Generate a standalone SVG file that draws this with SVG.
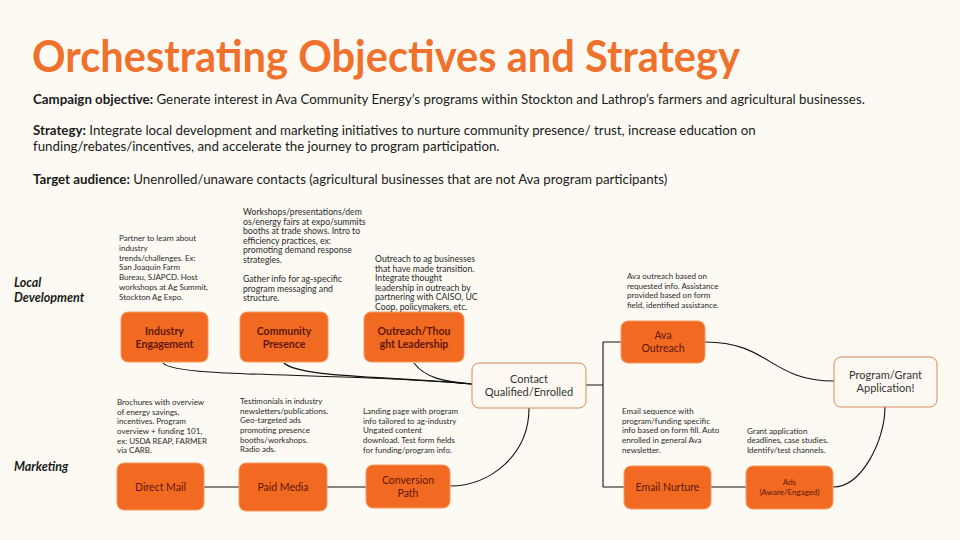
<svg xmlns="http://www.w3.org/2000/svg" width="960" height="540" viewBox="0 0 960 540">
<defs>
<style>
.bg{fill:#fcfaf3}
.title{font-family:Lato,"Open Sans",sans-serif;font-weight:700;font-size:43px;fill:#f0712c}
.body{font-family:Lato,"Open Sans",sans-serif;font-size:13.3px;fill:#1a1a1a}
.body .b{font-weight:700}
.lane{font-family:Lato,"Open Sans",sans-serif;font-size:12.5px;font-weight:700;font-style:italic;fill:#1a1a1a}
.note{font-family:Lato,"Open Sans",sans-serif;font-size:8px;fill:#2a2a2a}
.note.l{font-size:8.7px}
.box{fill:#f26a22;stroke:#f59a5e;stroke-width:1}
.wbox{fill:#fdf9f2;stroke:#d9895a;stroke-width:1}
.nt{font-family:Lato,"Open Sans",sans-serif;font-size:10.5px;font-weight:700;fill:#5e1608;text-anchor:middle}
.nr{font-family:Lato,"Open Sans",sans-serif;font-size:10.5px;fill:#5e1608;text-anchor:middle}
.ns{font-family:Lato,"Open Sans",sans-serif;font-size:8px;fill:#5e1608;text-anchor:middle}
.wt{font-family:Lato,"Open Sans",sans-serif;font-size:11px;fill:#333;text-anchor:middle}
.c{fill:none;stroke:#111;stroke-width:1.1}
</style>
</defs>
<rect class="bg" x="0" y="0" width="960" height="540"/>
<text class="title" x="32" y="72" textLength="708" lengthAdjust="spacingAndGlyphs">Orchestrating Objectives and Strategy</text>
<text class="body" x="33" y="104"><tspan class="b">Campaign objective:</tspan> Generate interest in Ava Community Energy’s programs within Stockton and Lathrop’s farmers and agricultural businesses.</text>
<text class="body" x="33" y="135"><tspan class="b">Strategy:</tspan> Integrate local development and marketing initiatives to nurture community presence/ trust, increase education on</text>
<text class="body" x="33" y="151">funding/rebates/incentives, and accelerate the  journey to program participation.</text>
<text class="body" x="33" y="184"><tspan class="b">Target audience:</tspan> Unenrolled/unaware contacts (agricultural businesses that are not Ava program participants)</text>
<text class="lane" x="14" y="287">Local</text>
<text class="lane" x="14" y="302">Development</text>
<text class="lane" x="14" y="471">Marketing</text>
<g id="connectors">
<path class="c" d="M163,363 C175,378 330,372 472,384"/>
<path class="c" d="M284,363 C300,378 390,376 472,384"/>
<path class="c" d="M414,363 C425,378 445,382 472,384"/>
<path class="c" d="M586,385 H603 M603,342 V487 M603,342 H621 M603,487 H624"/>
<path class="c" d="M705,342 C770,342 770,381 834,381"/>
<path class="c" d="M529,408 C529,455 490,486 450,486"/>
<path class="c" d="M204,487 H239 M327,487 H366 M711,487 H746"/>
<path class="c" d="M833,487 C862,487 885,440 885,407"/>
</g>
<g id="industry-engagement">
<rect class="box" x="121" y="312" width="87" height="50" rx="7"/>
<text class="nt" x="164.5" y="335">Industry</text>
<text class="nt" x="164.5" y="348">Engagement</text>
</g>
<g id="community-presence">
<rect class="box" x="240" y="312" width="88" height="50" rx="7"/>
<text class="nt" x="284" y="335">Community</text>
<text class="nt" x="284" y="348">Presence</text>
</g>
<g id="outreach-thought-leadership">
<rect class="box" x="364" y="312" width="100" height="50" rx="7"/>
<text class="nt" x="414" y="335">Outreach/Thou</text>
<text class="nt" x="414" y="348">ght Leadership</text>
</g>
<g id="contact">
<rect class="wbox" x="472" y="363" width="114" height="45" rx="7"/>
<text class="wt" x="529" y="383">Contact</text>
<text class="wt" x="529" y="396">Qualified/Enrolled</text>
</g>
<g id="ava-outreach">
<rect class="box" x="621" y="321" width="84" height="42" rx="7"/>
<text class="nr" x="663" y="339">Ava</text>
<text class="nr" x="663" y="352">Outreach</text>
</g>
<g id="program-application">
<rect class="wbox" x="834" y="357" width="103" height="50" rx="7"/>
<text class="wt" x="885.5" y="379">Program/Grant</text>
<text class="wt" x="885.5" y="392">Application!</text>
</g>
<g id="direct-mail">
<rect class="box" x="117" y="463" width="87" height="47" rx="7"/>
<text class="nr" x="160.5" y="491">Direct Mail</text>
</g>
<g id="paid-media">
<rect class="box" x="239" y="463" width="88" height="48" rx="7"/>
<text class="nr" x="283" y="491">Paid Media</text>
</g>
<g id="conversion-path">
<rect class="box" x="366" y="465" width="84" height="43" rx="7"/>
<text class="nr" x="408" y="484">Conversion</text>
<text class="nr" x="408" y="497">Path</text>
</g>
<g id="email-nurture">
<rect class="box" x="624" y="466" width="87" height="43" rx="7"/>
<text class="nr" x="667.5" y="491">Email Nurture</text>
</g>
<g id="ads">
<rect class="box" x="746" y="466" width="87" height="43" rx="7"/>
<text class="ns" x="789.5" y="485">Ads</text>
<text class="ns" x="789.5" y="495">(Aware/Engaged)</text>
</g>
<g id="notes">
<text class="note" x="119" y="241">Partner to learn about</text>
<text class="note" x="119" y="251">industry</text>
<text class="note" x="119" y="261">trends/challenges. Ex:</text>
<text class="note" x="119" y="270">San Joaquin Farm</text>
<text class="note" x="119" y="280">Bureau, SJAPCD. Host</text>
<text class="note" x="119" y="290">workshops at Ag Summit,</text>
<text class="note" x="119" y="300">Stockton Ag Expo.</text>

<text class="note l" x="243" y="215">Workshops/presentations/dem</text>
<text class="note l" x="243" y="224.6">os/energy fairs at expo/summits</text>
<text class="note l" x="243" y="234.2">booths at trade shows. Intro to</text>
<text class="note l" x="243" y="243.8">efficiency practices, ex:</text>
<text class="note l" x="243" y="253.4">promoting demand response</text>
<text class="note l" x="243" y="263">strategies.</text>
<text class="note l" x="243" y="282.2">Gather info for ag-specific</text>
<text class="note l" x="243" y="291.8">program messaging and</text>
<text class="note l" x="243" y="301.4">structure.</text>

<text class="note l" x="375" y="262">Outreach to ag businesses</text>
<text class="note l" x="375" y="271.6">that have made transition.</text>
<text class="note l" x="375" y="281.2">Integrate thought</text>
<text class="note l" x="375" y="290.8">leadership  in outreach by</text>
<text class="note l" x="375" y="300.4">partnering with CAISO, UC</text>
<text class="note l" x="375" y="310">Coop, policymakers, etc.</text>

<text class="note" x="627" y="279">Ava outreach based on</text>
<text class="note" x="627" y="289">requested info. Assistance</text>
<text class="note" x="627" y="298">provided based on form</text>
<text class="note" x="627" y="308">field, identified assistance.</text>

<text class="note" x="117" y="405">Brochures with overview</text>
<text class="note" x="117" y="415">of energy savings,</text>
<text class="note" x="117" y="424">incentives. Program</text>
<text class="note" x="117" y="434">overview + funding 101,</text>
<text class="note" x="117" y="444">ex: USDA REAP, FARMER</text>
<text class="note" x="117" y="453">via CARB.</text>

<text class="note" x="240" y="404">Testimonials in industry</text>
<text class="note" x="240" y="414">newsletters/publications.</text>
<text class="note" x="240" y="423">Geo-targeted ads</text>
<text class="note" x="240" y="433">promoting presence</text>
<text class="note" x="240" y="443">booths/workshops.</text>
<text class="note" x="240" y="452">Radio ads.</text>

<text class="note" x="363" y="414">Landing page with program</text>
<text class="note" x="363" y="424">info tailored to ag-industry</text>
<text class="note" x="363" y="433">Ungated content</text>
<text class="note" x="363" y="443">download. Test form fields</text>
<text class="note" x="363" y="453">for funding/program info.</text>

<text class="note" x="622" y="414">Email sequence with</text>
<text class="note" x="622" y="424">program/funding specific</text>
<text class="note" x="622" y="433">info based on form fill. Auto</text>
<text class="note" x="622" y="443">enrolled in general Ava</text>
<text class="note" x="622" y="453">newsletter.</text>

<text class="note" x="747" y="434">Grant application</text>
<text class="note" x="747" y="443">deadlines, case studies.</text>
<text class="note" x="747" y="453">Identify/test channels.</text>
</g>
</svg>
